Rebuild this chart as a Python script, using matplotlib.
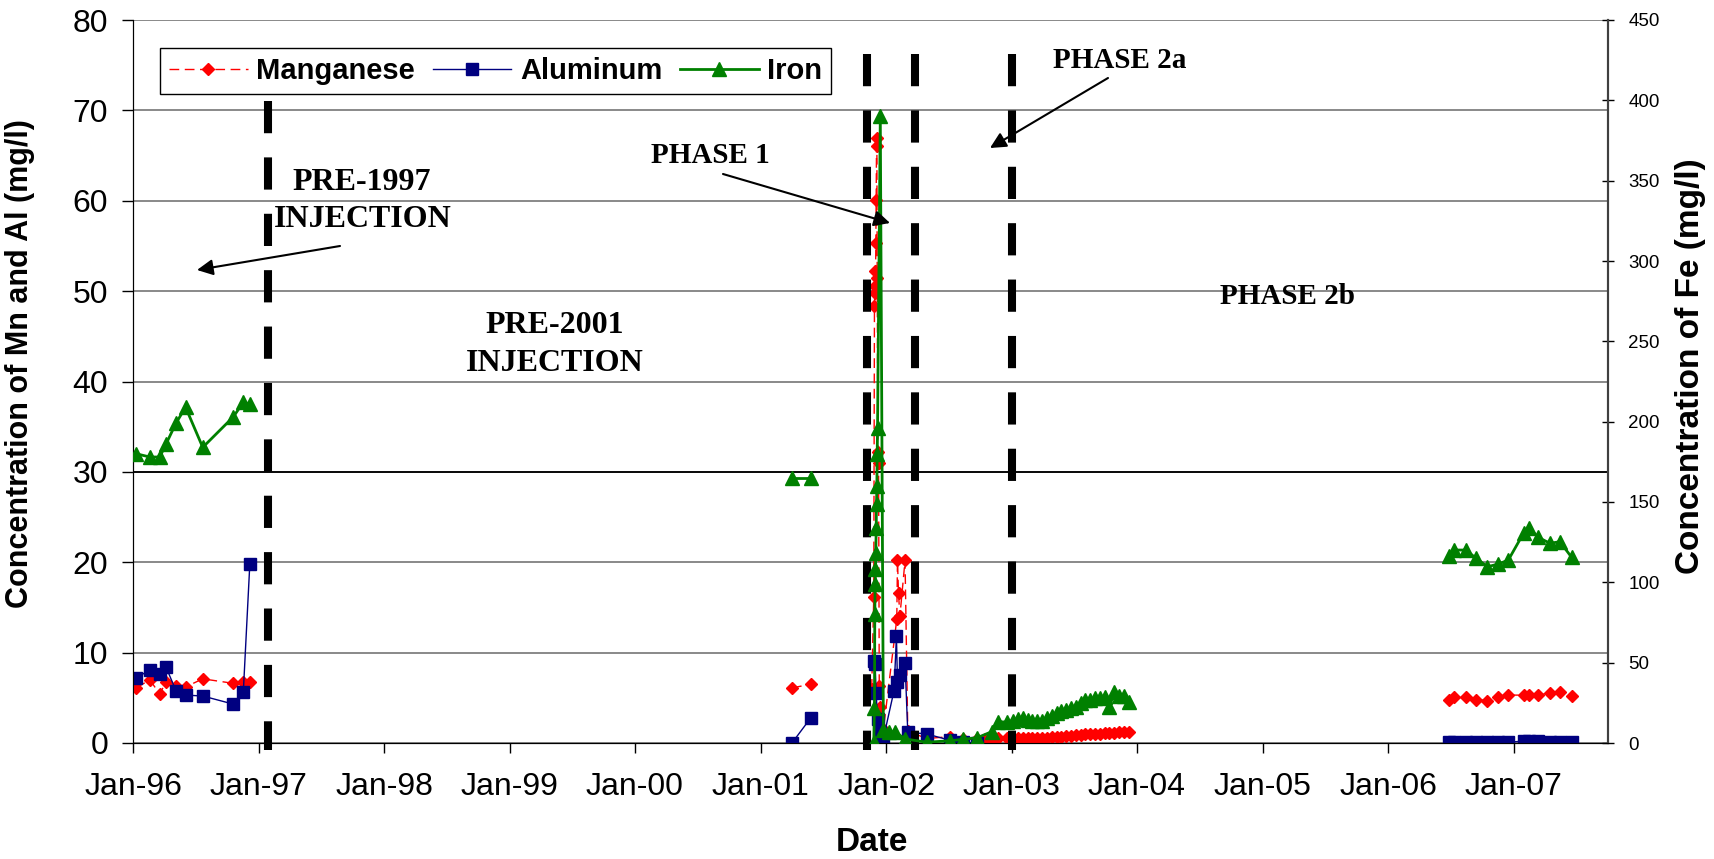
import numpy as np
import matplotlib
matplotlib.use("Agg")
import matplotlib.pyplot as plt
import matplotlib.dates as mdates
from matplotlib.lines import Line2D

plt.rcParams["font.family"] = ["Liberation Sans", "DejaVu Sans"]

# ---- sampling groups (no line drawn between groups) ----
dates_96 = ["1996-01-11", "1996-02-19", "1996-03-19", "1996-04-06", "1996-05-05",
            "1996-06-02", "1996-07-22", "1996-10-19", "1996-11-17", "1996-12-06"]
mn_96 = [6.1, 7.0, 5.4, 6.8, 6.3, 6.2, 7.1, 6.6, 6.7, 6.7]
al_96 = [7.2, 8.1, 7.6, 8.4, 5.8, 5.3, 5.2, 4.3, 5.6, 19.8]
fe_96 = [180, 178, 178, 186, 199, 209, 184, 203, 212, 211]

dates_01 = ["2001-04-02", "2001-05-27"]
mn_01 = [6.1, 6.5]
al_01 = [0.0, 2.8]
fe_01 = [165, 165]

dates_03 = ["2003-01-06", "2003-01-20", "2003-02-03", "2003-02-17", "2003-03-03",
            "2003-03-17", "2003-03-31", "2003-04-14", "2003-04-28", "2003-05-12",
            "2003-05-26", "2003-06-09", "2003-06-23", "2003-07-07", "2003-07-21",
            "2003-08-04", "2003-08-18", "2003-09-01", "2003-09-15", "2003-09-29",
            "2003-10-13", "2003-10-27", "2003-11-10", "2003-11-24", "2003-12-08"]

mn_inj_dates = ["2001-11-20", "2001-11-26", "2001-11-28", "2001-11-29", "2001-11-30",
                "2001-12-01", "2001-12-02", "2001-12-03", "2001-12-04", "2001-12-05",
                "2001-12-06", "2001-12-08", "2001-12-10", "2001-12-12", "2001-12-15",
                "2001-12-24", "2002-02-01", "2002-02-03", "2002-02-06", "2002-02-10",
                "2002-02-25", "2002-03-05", "2002-04-29", "2002-07-06", "2002-08-13",
                "2002-09-23", "2002-10-15", "2002-11-04", "2002-11-23", "2002-12-18"]
mn_inj = [6.0, 16.2, 48.4, 49.8, 52.2, 50.6, 55.3, 60.1, 66.1, 66.9,
          51.5, 32.2, 31.0, 6.3, 4.0, 1.5, 13.7, 20.2, 16.6, 14.0,
          20.2, 1.3, 0.5, 0.7, 0.4, 0.4, 0.4, 0.45, 0.5, 0.5]
mn_03 = [0.45, 0.5, 0.5, 0.55, 0.5, 0.55, 0.6, 0.6, 0.65, 0.7, 0.7, 0.75, 0.8,
         0.85, 0.9, 0.95, 1.0, 1.0, 1.05, 1.1, 1.1, 1.15, 1.2, 1.25, 1.25]

al_inj_dates = ["2001-11-26", "2001-11-30", "2001-12-03", "2001-12-07", "2001-12-15",
                "2001-12-24", "2002-01-24", "2002-01-31", "2002-02-03", "2002-02-10",
                "2002-02-25", "2002-03-05", "2002-04-29", "2002-07-06", "2002-08-13",
                "2002-09-23"]
al_inj = [9.1, 8.7, 5.5, 2.7, 1.2, 0.5, 5.8, 11.8, 6.7, 7.5, 8.9, 1.2, 1.0, 0.3, 0.1, 0.0]

fe_inj_dates = ["2001-11-26", "2001-11-28", "2001-11-29", "2001-11-30", "2001-12-01",
                "2001-12-02", "2001-12-03", "2001-12-04", "2001-12-05", "2001-12-06",
                "2001-12-07", "2001-12-15", "2001-12-24", "2002-01-10", "2002-01-27",
                "2002-02-25", "2002-04-29", "2002-07-06", "2002-08-13", "2002-09-23",
                "2002-11-04", "2002-11-23", "2002-12-18"]
fe_inj = [0.5, 22, 80, 99, 108, 118, 134, 149, 160, 180, 196, 390, 8, 7, 7,
          2.5, 0.5, 1.4, 2.3, 3.3, 7, 13.3, 13]
fe_03 = [14, 15, 15.3, 14.5, 14, 14, 13.5, 15.3, 16.5, 18.5, 20, 20.5, 21.5,
         22.6, 25, 26.8, 27, 27.8, 28, 28.8, 22.2, 32, 29, 29, 25.7]

dates_06 = ["2006-06-28", "2006-07-12", "2006-08-15", "2006-09-14", "2006-10-17",
            "2006-11-18", "2006-12-17", "2007-01-31", "2007-02-16", "2007-03-14",
            "2007-04-17", "2007-05-16", "2007-06-19"]
mn_06 = [4.8, 5.05, 5.05, 4.8, 4.7, 5.05, 5.3, 5.3, 5.3, 5.3, 5.55, 5.65, 5.15]
al_06 = [0.1, 0.1, 0.1, 0.1, 0.1, 0.1, 0.1, 0.2, 0.25, 0.2, 0.15, 0.1, 0.1]
fe_06 = [116.4, 120.1, 120.1, 115, 109.7, 111.4, 113.9, 130.9, 133.6, 128, 124.3, 125.3, 115.6]

phase_dates = ["1997-01-28", "2001-11-06", "2002-03-26", "2003-01-01"]
phase_tops = [71.0, 76.2, 76.2, 76.2]

W, H = 1714, 859


def d(lst):
    return np.array(lst, dtype="datetime64[D]")


def fp(x, y):
    # reference-image pixel -> figure fraction
    return x / W, 1 - y / H


RED, NAVY, GREEN = "#ff0000", "#000080", "#008000"
mn_style = dict(color=RED, lw=1.0, ls=(0, (7, 4)), marker="D", ms=6.5, mec=RED, zorder=3)
al_style = dict(color=NAVY, lw=1.0, marker="s", ms=8.5, mec=NAVY, zorder=4)
fe_style = dict(color=GREEN, lw=2.0, marker="^", ms=9.5, mec=GREEN, zorder=3)

fig = plt.figure(figsize=(W / 100, H / 100), dpi=100)
ax = fig.add_axes([133 / W, 1 - 743 / H, (1608 - 133) / W, (743 - 20) / H])
ax2 = ax.twinx()

for dt, v in [(dates_96, mn_96), (dates_01, mn_01), (mn_inj_dates + dates_03, mn_inj + mn_03),
              (dates_06, mn_06)]:
    ax.plot(d(dt), v, **mn_style)
for dt, v in [(dates_96, al_96), (dates_01, al_01), (al_inj_dates, al_inj), (dates_06, al_06)]:
    ax.plot(d(dt), v, **al_style)
for dt, v in [(dates_96, fe_96), (dates_01, fe_01), (fe_inj_dates + dates_03, fe_inj + fe_03),
              (dates_06, fe_06)]:
    ax2.plot(d(dt), v, **fe_style)

# phase boundaries
for pd_, top in zip(phase_dates, phase_tops):
    x = np.datetime64(pd_)
    ax.plot([x, x], [top, -0.8], color="k", lw=5.8, dashes=(4, 3),
            dash_capstyle="butt", clip_on=False, zorder=5)

ax.set_xlim(np.datetime64("1996-01-01"), np.datetime64("2007-10-03"))
ax.set_ylim(0, 80)
ax2.set_ylim(0, 450)
ax.set_yticks(range(0, 81, 10))
ax2.set_yticks(range(0, 451, 50))
ax.xaxis.set_major_locator(mdates.YearLocator())
ax.xaxis.set_major_formatter(mdates.DateFormatter("Jan-%y"))

ax.yaxis.grid(True, color="#808080", lw=1.3)
ax.axhline(30, color="k", lw=1.3, zorder=1)
ax.set_axisbelow(True)

ax.tick_params(axis="y", direction="out", length=8, width=1, labelsize=23, pad=10)
ax.tick_params(axis="x", direction="out", length=7, width=1, labelsize=23, pad=14)
ax2.tick_params(axis="y", direction="inout", length=9, width=1, labelsize=13.5, pad=10)
for a in (ax, ax2):
    a.spines["top"].set_visible(False)
    a.spines["left"].set_color("k")
    a.spines["bottom"].set_color("k")
    a.spines["right"].set_color("#404040")
    a.spines["right"].set_linewidth(1.5)

fig.text(*fp(20, 364), "Concentration of Mn and Al (mg/l)", rotation=90,
         ha="center", va="center", fontsize=22, fontweight="bold")
fig.text(*fp(1690, 366), "Concentration of Fe (mg/l)", rotation=90,
         ha="center", va="center", fontsize=24, fontweight="bold")
fig.text(*fp(872, 851), "Date", ha="center", va="baseline", fontsize=24, fontweight="bold")

handles = [Line2D([], [], **{k: v for k, v in mn_style.items() if k != "zorder"}),
           Line2D([], [], **{k: v for k, v in al_style.items() if k != "zorder"}),
           Line2D([], [], **{k: v for k, v in fe_style.items() if k != "zorder"})]
leg = ax2.legend(handles, ["Manganese", "Aluminum", "Iron"], loc="upper left",
                 bbox_to_anchor=((160 - 133) / 1475, (743 - 48) / 723), ncol=3,
                 fancybox=False, edgecolor="k", framealpha=1, borderaxespad=0,
                 prop=dict(family="Liberation Sans", weight="bold", size=21),
                 handlelength=2.7, handletextpad=0.3, columnspacing=0.6, borderpad=0.3)
leg.get_frame().set_linewidth(1.0)
leg.set_zorder(10)

serif = dict(family="Liberation Serif", weight="bold", ha="center", va="baseline")
for x, y, s, size in [(362, 190, "PRE-1997", 23), (363, 227, "INJECTION", 23),
                      (555, 333, "PRE-2001", 23), (555, 371, "INJECTION", 23),
                      (710, 163, "PHASE 1", 21), (1120, 68, "PHASE 2a", 21),
                      (1287, 304, "PHASE 2b", 21)]:
    fig.text(*fp(x, y), s, fontsize=size, **serif)

arrow = dict(arrowstyle="-|>", mutation_scale=24, lw=1.5, color="k", shrinkA=0, shrinkB=0)
for tail, tip in [((340, 246), (197, 270)), ((723, 174), (890, 223)),
                  ((1108, 78), (990, 148))]:
    ax2.annotate("", xy=fp(*tip), xytext=fp(*tail), xycoords="figure fraction",
                 textcoords="figure fraction", arrowprops=arrow)

fig.savefig("out.png", dpi=100)
